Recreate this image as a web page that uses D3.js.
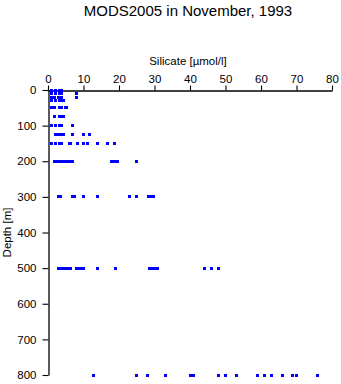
<!DOCTYPE html>
<html>
<head>
<meta charset="utf-8">
<script src="https://cdn.jsdelivr.net/npm/d3@7"></script>
<style>
  html, body { margin: 0; padding: 0; background: #fff; }
  svg { display: block; font-family: "Liberation Sans", Arial, Helvetica, sans-serif; }
</style>
</head>
<body>
<svg id="chart" width="341" height="384"></svg>
<script>
// Sampled depths (m) and the silicate values (µmol/l) measured at each depth
const depthLevels = [0, 10, 20, 30, 50, 75, 100, 125, 150, 200, 300, 500, 800];
const silicateByDepth = [
  [1.1, 2.0, 3.1, 3.9],
  [1.1, 2.0, 3.1, 3.9, 8.0],
  [1.0, 1.9, 3.0, 3.8, 7.9],
  [1.1, 2.0, 3.1, 3.7, 4.3],
  [1.1, 1.9, 3.1, 3.8, 4.8, 5.3],
  [1.9, 3.1, 3.8, 4.4],
  [1.1, 2.0, 3.1, 3.9, 7.0],
  [2.0, 2.9, 3.5, 4.3, 7.0, 9.9, 11.8],
  [1.1, 2.0, 3.1, 3.9, 6.0, 6.4, 8.2, 10.0, 11.0, 14.0, 16.8, 18.8],
  [1.9, 2.6, 3.4, 4.3, 5.2, 6.1, 6.8, 17.8, 18.6, 19.5, 25.0],
  [3.0, 3.5, 6.9, 7.6, 10.1, 14.0, 23.0, 25.0, 28.2, 29.0, 29.8],
  [3.0, 3.7, 4.4, 5.0, 5.7, 6.3, 8.0, 8.7, 9.4, 10.1, 14.0, 19.1, 28.7, 29.5, 30.2, 30.9, 44.0, 46.0, 48.0],
  [12.9, 25.0, 28.1, 33.0, 40.0, 41.0, 48.0, 50.0, 53.1, 59.0, 61.0, 63.0, 66.0, 68.9, 70.1, 76.0]
];
const xTicks = [0, 10, 20, 30, 40, 50, 60, 70, 80];
const yTicks = [0, 100, 200, 300, 400, 500, 600, 700, 800];

const titleText = "MODS2005 in November, 1993";
const xLabel = "Silicate [\u00b5mol/l]";
const yLabel = "Depth [m]";

const points = depthLevels.flatMap((d, i) => silicateByDepth[i].map(v => ({ depth: d, si: v })));

const svg = d3.select("#chart");
const plot = { left: 48, right: 332, top: 90, bottom: 375 };

const x = d3.scaleLinear().domain([0, 80]).range([plot.left, plot.right]);
const y = d3.scaleLinear().domain([0, 800]).range([plot.top, plot.bottom]);

// Title
svg.append("text")
  .attr("x", 188).attr("y", 16)
  .attr("text-anchor", "middle")
  .attr("font-size", 15)
  .text(titleText);

// Top axis (silicate)
const xAxis = svg.append("g")
  .attr("transform", `translate(0,${plot.top + 0.5})`)
  .call(d3.axisTop(x).tickValues(xTicks).tickSize(5).tickPadding(3).tickSizeOuter(0));

// Left axis (depth, increasing downward)
const yAxis = svg.append("g")
  .attr("transform", `translate(${plot.left + 0.5},0)`)
  .call(d3.axisLeft(y).tickValues(yTicks).tickSize(6).tickPadding(6).tickSizeOuter(0));

[xAxis, yAxis].forEach(g => {
  g.selectAll("path.domain").attr("stroke", "#000").attr("stroke-width", 1.3);
  g.selectAll(".tick line").attr("stroke", "#000").attr("stroke-width", 1.1);
  g.selectAll(".tick text")
    .attr("fill", "#000")
    .attr("font-size", 11.5)
    .attr("font-family", "Liberation Sans, Arial, sans-serif");
});

// Axis titles
svg.append("text")
  .attr("x", 188).attr("y", 65)
  .attr("text-anchor", "middle")
  .attr("font-size", 11.5)
  .text(xLabel);

svg.append("text")
  .attr("transform", `translate(11,${(plot.top + plot.bottom) / 2}) rotate(-90)`)
  .attr("text-anchor", "middle")
  .attr("font-size", 11.5)
  .text(yLabel);

// Sample markers
svg.append("g")
  .attr("shape-rendering", "crispEdges")
  .selectAll("rect")
  .data(points)
  .join("rect")
  .attr("x", d => x(d.si) - 1.5)
  .attr("y", d => y(d.depth) - 1.5)
  .attr("width", 3)
  .attr("height", 3)
  .attr("fill", "#0000ff");
</script>
</body>
</html>
